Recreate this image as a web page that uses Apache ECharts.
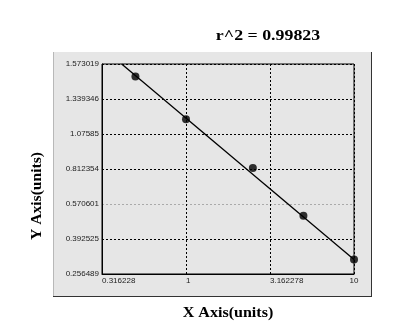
<!DOCTYPE html>
<html><head><meta charset="utf-8">
<script src="https://cdn.jsdelivr.net/npm/echarts@6/dist/echarts.min.js"></script>
<style>html,body{margin:0;padding:0;background:#fff}#c{width:420px;height:327px}</style>
</head><body><div id="c"></div>
<script>
// ---- data ----
const xValues = [0.5, 1, 2.5, 5, 10];
const yValues = [1.49, 1.187, 0.82, 0.511, 0.3125];
const fitX = [0.414, 10];
const fitY = [1.573019, 0.3125];
const xTickLabels = ['0.316228', '1', '3.162278', '10'];
const yTickLabels = ['0.256489', '0.392525', '0.570601', '0.812354', '1.07585', '1.339346', '1.573019'];
const titleText = 'r^2 = 0.99823';
const xTitle = 'X Axis(units)';
const yTitle = 'Y Axis(units)';

const yTickValues = yTickLabels.map(Number);
// the original software spaces its y ticks evenly: piecewise-linear scale between ticks
function yToAxis(v) {
  const n = yTickValues.length;
  for (let i = 0; i < n - 1; i++) {
    const a = yTickValues[i], b = yTickValues[i + 1];
    if (v <= b || i === n - 2) return i + (v - a) / (b - a);
  }
}
function xLabel(v) {
  let best = xTickLabels[0], d = Infinity;
  xTickLabels.forEach(l => { const dd = Math.abs(Math.log10(v) - Math.log10(Number(l))); if (dd < d) { d = dd; best = l; } });
  return d < 0.05 ? best : '';
}

const chart = echarts.init(document.getElementById('c'), null, { renderer: 'canvas' });
const dot = [2, 2];
chart.setOption({
  animation: false,
  backgroundColor: '#ffffff',
  grid: { left: 102, right: 66, top: 64, bottom: 53, show: true, borderColor: '#000', borderWidth: 1, backgroundColor: 'transparent' },
  xAxis: {
    type: 'log', logBase: Math.sqrt(10),
    min: Number(xTickLabels[0]), max: Number(xTickLabels[xTickLabels.length - 1]),
    axisLine: { show: true, lineStyle: { color: '#000', width: 1 } },
    axisTick: { show: false },
    axisLabel: { formatter: xLabel, fontSize: 8, fontFamily: 'Liberation Sans', color: '#222', margin: 3, align: 'left', alignMaxLabel: 'center', showMinLabel: true, showMaxLabel: true },
    splitLine: { show: true, lineStyle: { color: '#000', type: dot, width: 1 } }
  },
  yAxis: {
    type: 'value', min: 0, max: yTickLabels.length - 1, interval: 1,
    axisLine: { show: true, lineStyle: { color: '#000', width: 1 } },
    axisTick: { show: false },
    axisLabel: { formatter: v => yTickLabels[Math.round(v)], fontSize: 8, fontFamily: 'Liberation Sans', color: '#222', margin: 3 },
    splitLine: { show: true, lineStyle: { color: ['#000', '#000', '#aaaaaa', '#000', '#000', '#000', '#000'], type: dot, width: 1 } }
  },
  graphic: [
    { type: 'rect', z: -10, shape: { x: 53, y: 52, width: 318, height: 245 }, style: { fill: '#e6e6e6' } },
    { type: 'line', z: -9, shape: { x1: 53.5, y1: 52, x2: 53.5, y2: 297 }, style: { stroke: '#b8b8b8', lineWidth: 1 } },
    { type: 'line', z: -9, shape: { x1: 371.5, y1: 52, x2: 371.5, y2: 297 }, style: { stroke: '#333', lineWidth: 1 } },
    { type: 'line', z: -9, shape: { x1: 53, y1: 296.5, x2: 372, y2: 296.5 }, style: { stroke: '#333', lineWidth: 1 } },
    { type: 'text', x: 268, y: 36, scaleX: 1.19, style: { text: titleText, font: 'bold 15px "Liberation Serif"', fill: '#000', textAlign: 'center', textVerticalAlign: 'middle' } },
    { type: 'text', x: 228, y: 313, scaleX: 1.07, style: { text: xTitle, font: 'bold 15px "Liberation Serif"', fill: '#000', textAlign: 'center', textVerticalAlign: 'middle' } },
    { type: 'text', x: 37, y: 196, rotation: Math.PI / 2, scaleX: 1.04, style: { text: yTitle, font: 'bold 15px "Liberation Serif"', fill: '#000', textAlign: 'center', textVerticalAlign: 'middle' } }
  ],
  series: [
    { type: 'line', data: fitX.map((x, i) => [x, yToAxis(fitY[i])]), symbol: 'none', lineStyle: { color: '#000', width: 1.3 }, z: 3 },
    { type: 'scatter', data: xValues.map((x, i) => [x, yToAxis(yValues[i])]), symbol: 'circle', symbolSize: 8, itemStyle: { color: '#000' }, z: 4 }
  ]
});
</script></body></html>
